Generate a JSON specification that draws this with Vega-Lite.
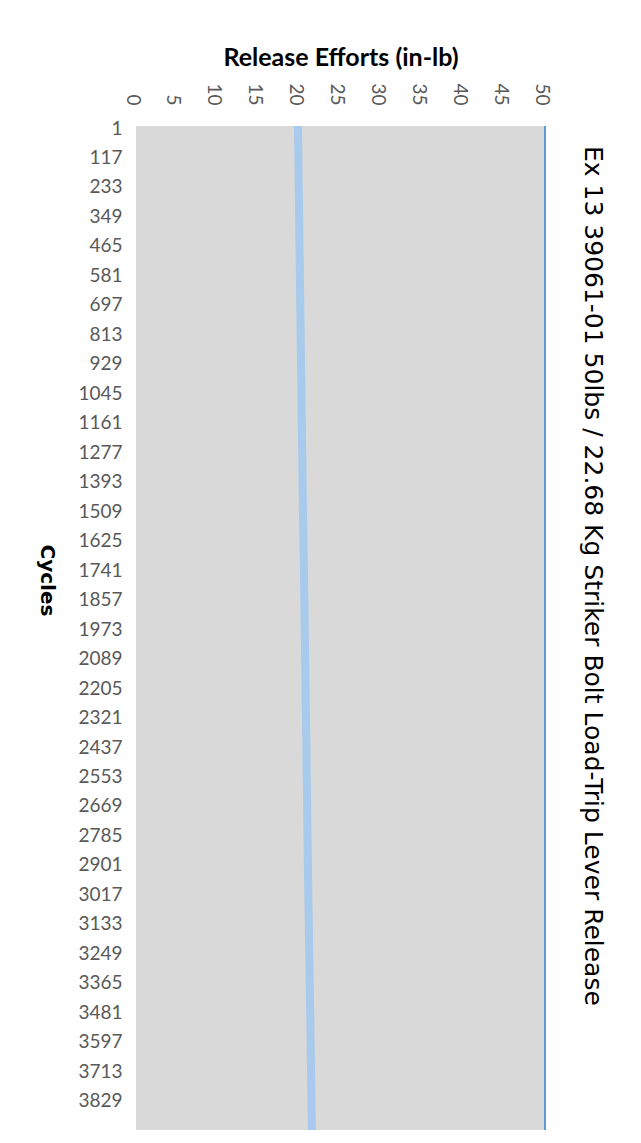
{
  "$schema": "https://vega.github.io/schema/vega-lite/v6.json",
  "autosize": "none",
  "width": 409,
  "height": 1004,
  "padding": {"left": 136, "top": 126, "right": 96, "bottom": 13},
  "background": "white",
  "config": {
    "view": {"fill": "#D9D9D9", "stroke": null},
    "font": "Lato"
  },
  "title": {
    "text": "Ex 13 39061-01 50lbs / 22.68 Kg Striker Bolt Load-Trip Lever Release",
    "orient": "right",
    "anchor": "start",
    "frame": "group",
    "font": "DejaVu Sans",
    "fontSize": 25,
    "fontWeight": "normal",
    "color": "#000000",
    "offset": 30,
    "dx": 20
  },
  "data": {
    "values": [
      {"cycle": 1, "effort": 19.8},
      {"cycle": 500, "effort": 20.0},
      {"cycle": 1000, "effort": 20.2},
      {"cycle": 1500, "effort": 20.4},
      {"cycle": 1787, "effort": 20.55},
      {"cycle": 2500, "effort": 20.85},
      {"cycle": 3000, "effort": 21.05},
      {"cycle": 3500, "effort": 21.3},
      {"cycle": 3952, "effort": 21.5}
    ]
  },
  "layer": [
    {
      "mark": {"type": "line", "color": "#A8CAEC", "strokeWidth": 8, "clip": true},
      "encoding": {
        "x": {
          "field": "effort",
          "type": "quantitative",
          "scale": {"domain": [0, 50], "nice": false, "zero": false},
          "axis": {
            "orient": "top",
            "title": "Release Efforts (in-lb)",
            "titleFontSize": 25,
            "titleFontWeight": "bold",
            "titleColor": "#000000",
            "titlePadding": 12,
            "values": [0, 5, 10, 15, 20, 25, 30, 35, 40, 45, 50],
            "labelAngle": 90,
            "labelFontSize": 19,
            "labelColor": "#595959",
            "labelPadding": 21,
            "labelOffset": -4,
            "ticks": false,
            "domain": false,
            "grid": false
          }
        },
        "y": {
          "field": "cycle",
          "type": "quantitative",
          "scale": {"domain": [1, 3952], "reverse": true, "nice": false, "zero": false},
          "axis": {
            "orient": "left",
            "title": "Cycles",
            "titleAngle": 90,
            "titleFont": "DejaVu Sans",
            "titleFontSize": 20,
            "titleFontWeight": "bold",
            "titleColor": "#000000",
            "titleX": -90,
            "titleY": 454,
            "titleAlign": "center",
            "titleBaseline": "middle",
            "values": [1, 117, 233, 349, 465, 581, 697, 813, 929, 1045, 1161, 1277, 1393, 1509, 1625, 1741, 1857, 1973, 2089, 2205, 2321, 2437, 2553, 2669, 2785, 2901, 3017, 3133, 3249, 3365, 3481, 3597, 3713, 3829],
            "labelFontSize": 19,
            "labelColor": "#595959",
            "labelPadding": 14,
            "labelOffset": 2,
            "labelOverlap": false,
            "labelBound": false,
            "labelFlush": false,
            "format": "d",
            "ticks": false,
            "domain": false,
            "grid": false
          }
        }
      }
    },
    {
      "mark": {"type": "rule", "color": "#5B9BD5", "strokeWidth": 1},
      "encoding": {"x": {"datum": 50}}
    }
  ]
}
